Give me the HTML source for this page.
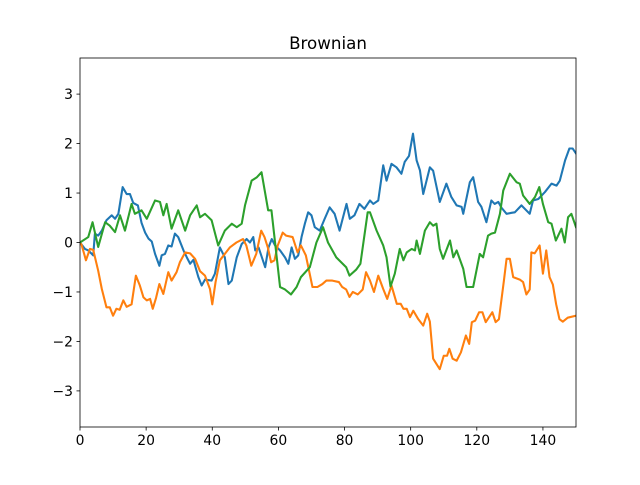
<!DOCTYPE html>
<html><head><meta charset="utf-8"><style>
body{margin:0;background:#fff}
svg text{font-family:"DejaVu Sans","Liberation Sans",sans-serif;fill:#000}
</style></head><body>
<svg id="chart" width="640" height="480" viewBox="0 0 640 480" xmlns="http://www.w3.org/2000/svg">
<rect width="640" height="480" fill="#fff"/>
<text x="328" y="49" font-size="16.7" text-anchor="middle">Brownian</text>
<g id="plot"></g>
<g id="axes"></g>
</svg>
<script>
const xTicks=[0,20,40,60,80,100,120,140];
const yTicks=[-3,-2,-1,0,1,2,3];
const blueX=[0,1.5,2.5,4,4.5,5.5,6.6,8,9.6,10.6,11.6,12.9,14.1,15.1,16.1,17.5,18.6,19.7,20.7,21.7,22.7,24,24.7,25.7,26.7,27.7,28.7,29.7,31.3,32.3,33.3,34.3,35.8,36.8,37.8,39.8,40.8,42.3,43.8,44.9,45.9,47.4,48.9,50.4,51.4,52.4,53,54,55,56,57,58,59,60.5,62,63,64,65,66,67,68,69,70,71,72.5,74,75.5,77,78.5,80.6,81.6,83,84.5,86,87.7,88.7,90.2,91.7,92.7,94.2,95.7,97.2,98.2,99.5,100.7,101.8,102.8,103.8,105.8,106.8,108.8,110.8,112.3,113.9,115.4,115.9,117.9,118.9,120.4,121.4,122.9,124.4,125.4,126.5,127.5,129,130.5,131.5,133.5,136,137,138.6,140.6,142.6,144.1,145.1,146.7,148,149,150];
const blueY=[0,-0.13,-0.16,-0.26,0.18,0.14,0.24,0.45,0.55,0.48,0.58,1.12,0.98,0.98,0.8,0.75,0.4,0.2,0.08,0.02,-0.23,-0.47,-0.26,-0.23,-0.06,-0.08,0.18,0.11,-0.16,-0.3,-0.43,-0.35,-0.7,-0.87,-0.75,-0.77,-0.63,-0.1,-0.3,-0.84,-0.77,-0.3,-0.03,0.07,0,0.11,-0.16,-0.1,-0.3,-0.5,-0.1,0.07,-0.06,-0.16,-0.3,-0.43,-0.1,-0.33,-0.26,0.11,0.38,0.61,0.55,0.31,0.24,0.48,0.71,0.58,0.24,0.78,0.48,0.55,0.78,0.68,0.85,0.78,0.85,1.56,1.25,1.59,1.52,1.39,1.63,1.75,2.2,1.66,1.46,0.98,1.52,1.45,0.82,1.19,0.92,0.75,0.72,0.58,1.22,1.32,0.82,0.72,0.41,0.85,0.78,0.82,0.7,0.58,0.6,0.61,0.75,0.58,0.85,0.88,1.02,1.19,1.15,1.25,1.66,1.9,1.9,1.8];
const orangeX=[0,0.5,1.8,3,4,5.5,6.6,8,9,10,11,12,13.1,14.1,15.6,16.9,18.1,19.2,20.2,21.2,22,23,24,25.2,26.7,27.7,29.2,30.2,31.8,33.3,34.8,36.3,37.8,39.3,40,41,42.3,43.8,45.3,47.3,49.3,50.3,51.8,53.3,54.8,55.8,56.8,57.8,58.8,59.8,61.3,62.3,64.3,65.8,66.8,68.3,70.3,71.8,73.3,74.5,76.3,78.3,79.3,80.5,81.5,82.5,84,85.5,86.5,87.7,88.9,90.2,91.7,92.9,94.2,95.8,97,97.8,98.8,99.8,100.8,102.3,103.8,105,105.8,106.8,108.8,110,111,111.7,112.7,113.9,115.2,116.7,117.7,118.5,119.5,120.7,121.7,122.7,124.7,125.7,126.7,128.2,129,130,131,133,134,135,136,136.5,137.5,139,140,141,142,143,144,145,146,147.5,150];
const orangeY=[0,-0.05,-0.36,-0.13,-0.15,-0.57,-0.94,-1.31,-1.31,-1.48,-1.34,-1.36,-1.17,-1.3,-1.25,-0.67,-0.87,-1.11,-1.17,-1.14,-1.34,-1.12,-0.84,-1.04,-0.6,-0.77,-0.6,-0.4,-0.2,-0.22,-0.33,-0.58,-0.67,-0.94,-1.25,-0.8,-0.36,-0.23,-0.1,0,0.07,-0.06,-0.47,-0.23,0.24,0.11,-0.1,-0.4,-0.36,-0.06,0.2,0.14,0.11,-0.2,-0.06,-0.26,-0.9,-0.9,-0.84,-0.77,-0.77,-0.8,-0.9,-0.95,-1.1,-1.0,-1.05,-0.95,-0.6,-0.77,-1.0,-0.67,-0.94,-1.14,-0.87,-1.24,-1.24,-1.34,-1.34,-1.51,-1.38,-1.55,-1.68,-1.44,-1.6,-2.35,-2.56,-2.29,-2.29,-2.15,-2.35,-2.39,-2.22,-1.88,-2.05,-1.61,-1.58,-1.41,-1.41,-1.61,-1.41,-1.61,-1.55,-0.77,-0.33,-0.33,-0.7,-0.75,-0.8,-1.05,-0.95,-0.2,-0.22,-0.06,-0.63,-0.16,-0.7,-0.85,-1.25,-1.55,-1.6,-1.52,-1.48];
const greenX=[0,2.5,3.8,5.5,7.6,9,10.6,12.1,13.6,15.6,16.6,18.6,20.2,22.7,24.2,25.2,26.2,27.7,29.7,31.8,33.3,35.3,36.3,37.8,39.8,41.8,43.8,45.9,47.4,48.9,49.9,51.9,53.5,54.9,56.9,57.9,60.5,62,63.8,65.5,66.8,69.5,71.5,73.5,75,77.5,80.5,81.5,83.5,84.8,87,87.7,89.7,91.7,92.7,93.9,95.2,96.7,97.8,98.8,100.3,101.3,101.8,102.8,104.3,105.8,106.8,107.8,108.8,109.8,111.9,112.9,113.9,115.9,116.9,118.9,120.9,121.9,123.4,124.4,125.5,127,128,130,132,133,134,136,137.6,138.9,140,141.6,142.6,143.9,145.6,146.6,147.6,148.6,150];
const greenY=[0,0.11,0.41,-0.09,0.41,0.34,0.21,0.55,0.24,0.78,0.58,0.65,0.48,0.85,0.82,0.55,0.78,0.28,0.65,0.24,0.55,0.75,0.51,0.58,0.45,-0.06,0.24,0.38,0.31,0.38,0.75,1.25,1.32,1.42,0.65,0.65,-0.9,-0.95,-1.05,-0.9,-0.7,-0.5,0,0.31,0,-0.3,-0.5,-0.67,-0.55,-0.43,0.61,0.61,0.24,-0.06,-0.3,-0.89,-0.63,-0.13,-0.36,-0.2,-0.13,-0.16,0.04,-0.23,0.24,0.41,0.34,0.38,-0.13,-0.33,0.04,-0.3,-0.16,-0.53,-0.9,-0.9,-0.23,-0.3,0.14,0.18,0.2,0.58,1.05,1.39,1.22,1.19,0.95,0.78,0.92,1.12,0.78,0.41,0.38,0.04,0.28,0,0.51,0.58,0.31];

const L=80,R=576,T=58,B=427,xMin=0,xMax=150,yMin=-3.73,yMax=3.73;
const sx=v=>L+(v-xMin)/(xMax-xMin)*(R-L);
const sy=v=>B-(v-yMin)/(yMax-yMin)*(B-T);
const NS="http://www.w3.org/2000/svg";
const plot=document.getElementById('plot'),axes=document.getElementById('axes');
function mk(tag,attrs,parent){const e=document.createElementNS(NS,tag);for(const k in attrs)e.setAttribute(k,attrs[k]);parent.appendChild(e);return e;}
const clip=mk('clipPath',{id:'clp'},plot);mk('rect',{x:L,y:T,width:R-L,height:B-T},clip);
function line(xs,ys,color,name){
  const d=ys.map((v,i)=>(i?'L':'M')+sx(xs[i]).toFixed(2)+','+sy(v).toFixed(2)).join('');
  const p=mk('path',{d:d,fill:'none',stroke:color,'stroke-width':2.08,'stroke-linejoin':'round','stroke-linecap':'square','clip-path':'url(#clp)'},plot);
  
  
}
line(blueX,blueY,'#1f77b4','series-blue');
line(orangeX,orangeY,'#ff7f0e','series-orange');
line(greenX,greenY,'#2ca02c','series-green');
const fr=mk('rect',{x:L,y:T,width:R-L,height:B-T,fill:'none',stroke:'#000','stroke-width':0.8},axes);


xTicks.forEach(t=>{
  const x=sx(t);
  const tk=mk('line',{x1:x,x2:x,y1:B,y2:B+3.5,stroke:'#000','stroke-width':0.8},axes);
  
  
  const tx=mk('text',{x:x,y:B+18,'font-size':13.9,'text-anchor':'middle'},axes);tx.textContent=t;
  
  
});
yTicks.forEach(t=>{
  const y=sy(t);
  const tk=mk('line',{x1:L-3.5,x2:L,y1:y,y2:y,stroke:'#000','stroke-width':0.8},axes);
  
  
  const tx=mk('text',{x:L-7,y:y+5,'font-size':13.9,'text-anchor':'end'},axes);tx.textContent=(t<0?'\u2212'+(-t):t);
  
  
});
</script>
</body></html>
